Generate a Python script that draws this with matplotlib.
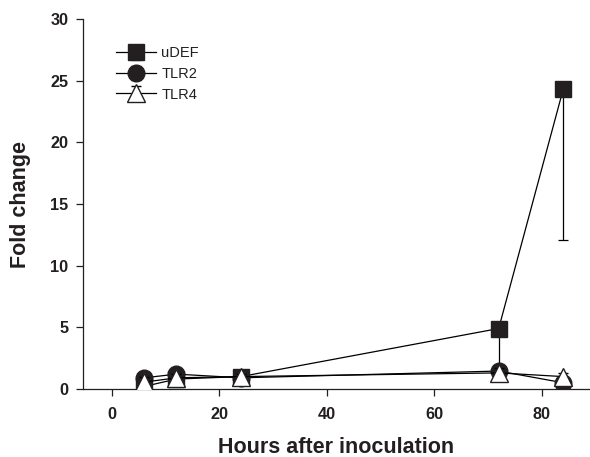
import matplotlib
matplotlib.use('Agg')
import matplotlib.pyplot as plt

plt.rcParams['font.family'] = ['Liberation Sans', 'DejaVu Sans']

hours = [6, 12, 24, 72, 84]

udef = [0.2, 0.8, 1.0, 4.9, 24.3]
udef_err_low = [0.1, 0.2, 0.2, 3.6, 12.2]

tlr2 = [0.9, 1.2, 0.9, 1.45, 0.5]
tlr2_err = [0.3, 0.3, 0.2, 0.4, 0.2]

tlr4 = [0.55, 0.9, 1.0, 1.3, 1.0]
tlr4_err = [0.4, 0.3, 0.2, 0.4, 0.3]

ink = '#231f20'

fig = plt.figure(figsize=(5.9, 4.57), dpi=100)
ax = fig.add_axes([0.1407, 0.149, 0.8593, 0.809])

# uDEF (lower error bar only)
ax.errorbar(hours, udef, yerr=[udef_err_low, [0] * len(hours)], color='black',
            marker='s', markersize=11.5, markerfacecolor=ink, markeredgecolor=ink,
            linewidth=0.9, elinewidth=0.9, capsize=3.6, capthick=0.9, label='uDEF', zorder=3)
# TLR2
ax.errorbar(hours, tlr2, yerr=tlr2_err, color='black',
            marker='o', markersize=12, markerfacecolor=ink, markeredgecolor=ink,
            linewidth=0.9, elinewidth=0.9, capsize=3.6, capthick=0.9, label='TLR2', zorder=4)
# TLR4
ax.errorbar(hours, tlr4, yerr=tlr4_err, color='black',
            marker='^', markersize=13, markerfacecolor='white', markeredgecolor=ink,
            markeredgewidth=1.0, linewidth=0.9, elinewidth=0.9, capsize=3.6, capthick=0.9,
            label='TLR4', zorder=5)

ax.set_xlim(-5.4, 89)
ax.set_ylim(0, 30)
ax.set_xticks([0, 20, 40, 60, 80])
ax.set_yticks([0, 5, 10, 15, 20, 25, 30])

ax.spines['top'].set_visible(False)
ax.spines['right'].set_visible(False)
for s in ['left', 'bottom']:
    ax.spines[s].set_linewidth(0.9)
    ax.spines[s].set_color(ink)

ax.tick_params(direction='out', length=5, width=0.9, colors=ink, labelsize=11.7)
ax.tick_params(axis='y', pad=5.5)
ax.tick_params(axis='x', pad=8)
for lbl in ax.get_xticklabels() + ax.get_yticklabels():
    lbl.set_fontweight('bold')
    lbl.set_color(ink)

ax.set_xlabel('Hours after inoculation', fontsize=15.5, fontweight='bold', color=ink, labelpad=10.5)
ax.set_ylabel('Fold change', fontsize=15.5, fontweight='bold', color=ink, labelpad=14)

leg = ax.legend(loc='upper left', bbox_to_anchor=(0.054, 0.942), frameon=False, fontsize=10.5,
                handlelength=2.7, handletextpad=0.4, labelspacing=0.45, borderaxespad=0)
for t in leg.get_texts():
    t.set_color(ink)

fig.savefig('out.png', dpi=100)
